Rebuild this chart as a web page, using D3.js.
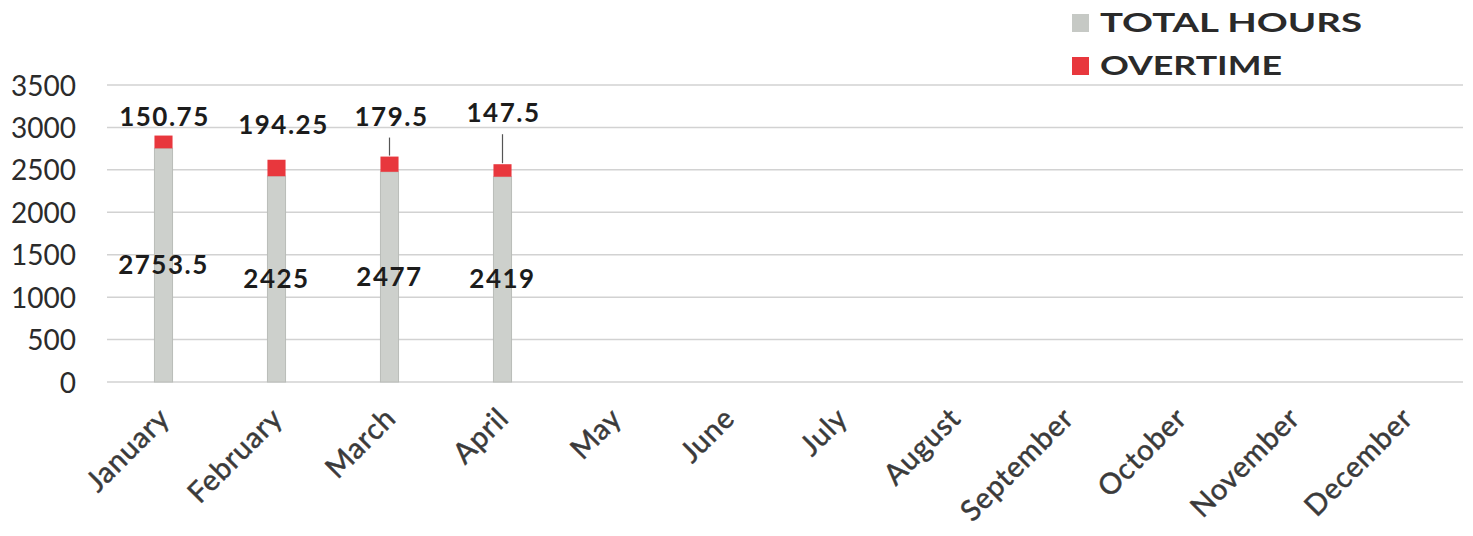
<!DOCTYPE html>
<html>
<head>
<meta charset="utf-8">
<script src="https://cdn.jsdelivr.net/npm/d3@7"></script>
<style>
  html, body { margin: 0; padding: 0; background: #fff; }
  svg { display: block; }
</style>
</head>
<body>
<svg id="chart" width="1473" height="536"></svg>
<script>
// Monthly hours: regular total plus overtime, stacked
const months = ["January", "February", "March", "April", "May", "June",
  "July", "August", "September", "October", "November", "December"];
const totalHours = [2753.5, 2425, 2477, 2419, null, null, null, null, null, null, null, null];
const overtime = [150.75, 194.25, 179.5, 147.5, null, null, null, null, null, null, null, null];
const yTicks = [0, 500, 1000, 1500, 2000, 2500, 3000, 3500];
const seriesNames = ["TOTAL HOURS", "OVERTIME"];
const seriesColors = ["#cdd0cc", "#e8373d"];

// Hand-placed overtime labels: [dx, gap above the bar top], and whether a leader line is drawn
const overtimeLabelNudge = [[1, 10], [7, 26], [2, 31], [1, 42], null, null, null, null, null, null, null, null];
const overtimeLeader = [false, false, true, true];

const svg = d3.select("#chart");
const plotLeft = 107, plotRight = 1463, plotTop = 85, plotBottom = 382;

const x = d3.scaleBand().domain(months).range([plotLeft, plotRight])
  .paddingInner(0.84).paddingOuter(0.42);
const y = d3.scaleLinear().domain([0, 3500]).range([plotBottom, plotTop]);

// Gridlines
svg.append("g").selectAll("line").data(yTicks).join("line")
  .attr("x1", plotLeft).attr("x2", plotRight)
  .attr("y1", d => y(d)).attr("y2", d => y(d))
  .attr("stroke", "#d2d2d2").attr("stroke-width", 1.5);

// Y axis labels
const yAxis = d3.axisLeft(y).tickValues(yTicks).tickSize(0).tickPadding(0).tickFormat(d3.format("d"));
const gy = svg.append("g").attr("transform", "translate(76,0)").call(yAxis);
gy.select(".domain").remove();
gy.selectAll("text")
  .attr("font-family", "Lato, sans-serif").attr("font-size", 28)
  .attr("fill", "#2b2b2b").attr("dy", "0.36em");

// Month labels along the bottom, slanted
const xAxis = d3.axisBottom(x).tickSize(0).tickPadding(0);
const gx = svg.append("g").attr("transform", `translate(0,${plotBottom})`).call(xAxis);
gx.select(".domain").remove();
gx.selectAll(".tick text")
  .attr("font-family", "Lato, sans-serif").attr("font-size", 29)
  .attr("letter-spacing", "0.8px")
  .attr("fill", "#3a3a3a").attr("stroke", "#3a3a3a").attr("stroke-width", 0.5)
  .attr("text-anchor", "end")
  .attr("y", 0).attr("dy", 0)
  .attr("transform", "translate(8,38) rotate(-45)");

// Stacked bars
const rows = months.map((m, i) => ({ m, i, total: totalHours[i], ot: overtime[i] }))
  .filter(d => d.total != null);

const bars = svg.append("g");
bars.selectAll("rect.total").data(rows).join("rect")
  .attr("class", "total")
  .attr("x", d => x(d.m)).attr("width", x.bandwidth())
  .attr("y", d => y(d.total)).attr("height", d => y(0) - y(d.total))
  .attr("fill", seriesColors[0]).attr("stroke", "#babdb9").attr("stroke-width", 1);
bars.selectAll("rect.ot").data(rows).join("rect")
  .attr("class", "ot")
  .attr("x", d => x(d.m)).attr("width", x.bandwidth())
  .attr("y", d => y(d.total + d.ot)).attr("height", d => y(d.total) - y(d.total + d.ot))
  .attr("fill", seriesColors[1]);

const labelFont = { family: "Lato, sans-serif", size: 26 };
const cx = d => x(d.m) + x.bandwidth() / 2;

// Total hours labels, centred in the grey segment
svg.append("g").selectAll("text").data(rows).join("text")
  .attr("x", cx)
  .attr("y", d => y(d.total / 2) + 9)
  .attr("text-anchor", "middle")
  .attr("font-family", labelFont.family).attr("font-size", labelFont.size)
  .attr("font-weight", 700).attr("letter-spacing", "1.5px")
  .attr("fill", "#1c1c1c")
  .text(d => d.total);

// Overtime labels above each bar
const otLabels = svg.append("g");
otLabels.selectAll("text").data(rows).join("text")
  .attr("x", d => cx(d) + overtimeLabelNudge[d.i][0])
  .attr("y", d => y(d.total + d.ot) - overtimeLabelNudge[d.i][1])
  .attr("text-anchor", "middle")
  .attr("font-family", labelFont.family).attr("font-size", labelFont.size)
  .attr("font-weight", 700).attr("letter-spacing", "1.5px")
  .attr("fill", "#1c1c1c")
  .text(d => d.ot);
otLabels.selectAll("line").data(rows.filter(d => overtimeLeader[d.i])).join("line")
  .attr("x1", cx).attr("x2", cx)
  .attr("y1", d => y(d.total + d.ot) - overtimeLabelNudge[d.i][1] + 12)
  .attr("y2", d => y(d.total + d.ot) - 1)
  .attr("stroke", "#555").attr("stroke-width", 1.2);

// Legend, top right
const legend = svg.append("g").attr("transform", "translate(1072,0)");
seriesNames.forEach((name, i) => {
  const g = legend.append("g").attr("transform", `translate(0,${13 + i * 43})`);
  g.append("rect").attr("width", 17).attr("height", 18).attr("y", 1)
    .attr("fill", i === 0 ? "#c6c9c5" : seriesColors[1]);
  g.append("text").attr("x", 28).attr("y", 19)
    .attr("font-family", "Lato, sans-serif").attr("font-size", 27).attr("font-weight", 700)
    .attr("fill", "#2a2a2a")
    .attr("textLength", i === 0 ? 262 : 182).attr("lengthAdjust", "spacingAndGlyphs")
    .text(name);
});
</script>
</body>
</html>
